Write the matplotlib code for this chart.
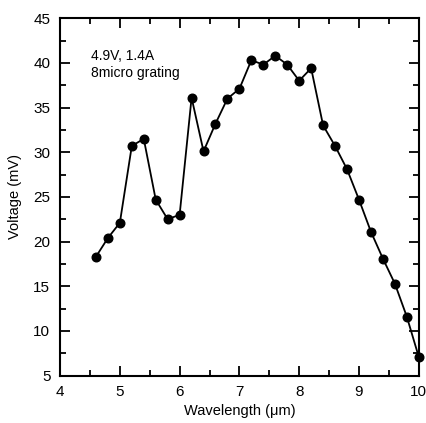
"""Voltage vs wavelength for the 8 micron grating."""

import matplotlib.pyplot as plt
from matplotlib.ticker import MultipleLocator

plt.rcParams["font.family"] = ["Liberation Sans", "DejaVu Sans"]

wavelength = [4.6, 4.8, 5.0, 5.2, 5.4, 5.6, 5.8, 6.0, 6.2, 6.4, 6.6, 6.8, 7.0, 7.2,
              7.4, 7.6, 7.8, 8.0, 8.2, 8.4, 8.6, 8.8, 9.0, 9.2, 9.4, 9.6, 9.8, 10.0]
voltage = [18.3, 20.4, 22.1, 30.7, 31.5, 24.7, 22.5, 23.0, 36.1, 30.1, 33.2, 36.0,
           37.1, 40.3, 39.8, 40.8, 39.8, 38.0, 39.4, 33.0, 30.7, 28.1, 24.7, 21.1,
           18.1, 15.3, 11.6, 7.1]

fig = plt.figure(figsize=(4.26, 4.23), dpi=100)
ax = fig.add_axes([0.141, 0.112, 0.842, 0.845])

ax.plot(wavelength, voltage, color="black", lw=1.3, marker="o", ms=6.2,
        mfc="black", mec="black", clip_on=False, zorder=3)

ax.set_xlim(4, 10)
ax.set_ylim(5, 45)
ax.xaxis.set_major_locator(MultipleLocator(1))
ax.xaxis.set_minor_locator(MultipleLocator(0.5))
ax.yaxis.set_major_locator(MultipleLocator(5))
ax.yaxis.set_minor_locator(MultipleLocator(2.5))
ax.tick_params(which="both", direction="in", top=True, right=True,
               labelsize=11, width=1.3, color="black")
ax.tick_params(which="major", length=7, pad=7)
ax.tick_params(which="minor", length=4)
for spine in ax.spines.values():
    spine.set_linewidth(1.5)

ax.set_xlabel("Wavelength (\u03bcm)", fontsize=10.5, labelpad=3)
ax.set_ylabel("Voltage (mV)", fontsize=10.5, labelpad=8)

ax.text(0.085, 0.915, "4.9V, 1.4A\n8micro grating", transform=ax.transAxes,
        fontsize=10, va="top", ha="left", linespacing=1.3)

fig.savefig("out.png", dpi=100)
